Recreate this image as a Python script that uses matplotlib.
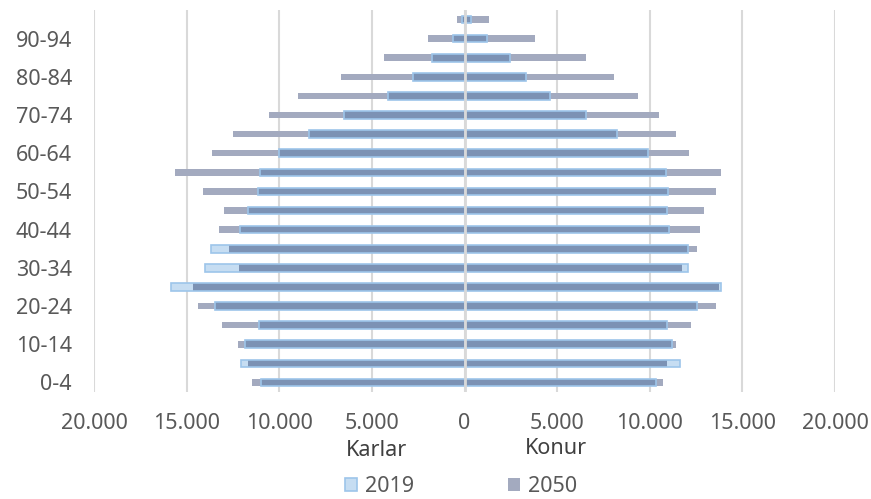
import numpy as np
import matplotlib
matplotlib.use('Agg')
import matplotlib.pyplot as plt
from matplotlib.patches import Patch

plt.rcParams['font.family'] = ['Noto Sans', 'DejaVu Sans']

# Age groups, youngest first
age_groups = ['0-4', '5-9', '10-14', '15-19', '20-24', '25-29', '30-34',
              '35-39', '40-44', '45-49', '50-54', '55-59', '60-64', '65-69',
              '70-74', '75-79', '80-84', '85-89', '90-94', '95+']

# Population counts per age group
karlar_2019 = [11000, 12080, 11860, 11100, 13490, 15860, 14030, 13700, 12130,
               11700, 11160, 11050, 10030, 8400, 6510, 4140, 2780, 1760, 620, 140]
karlar_2050 = [11490, 11700, 12240, 13110, 14400, 14680, 12190, 12730, 13270,
               13000, 14130, 15650, 13650, 12510, 10570, 9000, 6680, 4350, 1970, 400]
konur_2019 = [10350, 11650, 11220, 10950, 12570, 13820, 12080, 12080, 11050,
              10950, 11000, 10890, 9920, 8240, 6570, 4620, 3320, 2460, 1220, 350]
konur_2050 = [10730, 10950, 11430, 12240, 13590, 13760, 11760, 12570, 12730,
              12950, 13590, 13860, 12130, 11430, 10510, 9380, 8080, 6570, 3810, 1320]

tick_vals = [-20000, -15000, -10000, -5000, 0, 5000, 10000, 15000, 20000]
tick_labels = ['20.000', '15.000', '10.000', '5.000', '0',
               '5.000', '10.000', '15.000', '20.000']

C_2019 = '#C6DDF2'
C_2019_EDGE = '#9DC5EA'
C_2050 = '#A3AABF'
C_BOTH = '#7C92B4'
GRID = '#D9D9D9'
TXT = '#595959'

y = np.arange(len(age_groups))
k19 = -np.array(karlar_2019)
k50 = -np.array(karlar_2050)
n19 = np.array(konur_2019)
n50 = np.array(konur_2050)

fig = plt.figure(figsize=(8.71, 4.99), dpi=100)
ax = fig.add_axes([0.108, 0.2144, 0.8507, 0.7656])

h19 = 0.40
h50 = 0.34
for v19, v50 in ((k19, k50), (n19, n50)):
    # overlapping part of the two years is drawn darker
    both = np.sign(v19) * np.minimum(np.abs(v19), np.abs(v50))
    ax.barh(y, v50, height=h50, color=C_2050, zorder=2)
    ax.barh(y, v19, height=h19, color=C_2019, zorder=3)
    ax.barh(y, both, height=h19, color=C_BOTH, zorder=4)
    ax.barh(y, v19, height=h19, facecolor='none', edgecolor=C_2019_EDGE,
            linewidth=1.2, zorder=5)

ax.set_xlim(-20000, 20000)
ax.set_ylim(-0.5, len(age_groups) - 0.5)
ax.set_xticks(tick_vals)
ax.set_xticklabels(tick_labels)
ax.set_yticks(y[::2])
ax.set_yticklabels(age_groups[::2])
ax.tick_params(axis='both', length=0, labelsize=15.5, labelcolor=TXT)
ax.tick_params(axis='x', pad=15)
ax.tick_params(axis='y', pad=16)
for s in ax.spines.values():
    s.set_visible(False)

ax.grid(axis='x', color=GRID, linewidth=1.5, zorder=0)
ax.set_axisbelow(True)
ax.axvline(0, color=GRID, linewidth=2, zorder=6)

fig.text(376 / 871, 1 - 450 / 499, 'Karlar', ha='center', va='center',
         fontsize=15.5, color='#404040')
fig.text(556 / 871, 1 - 448 / 499, 'Konur', ha='center', va='center',
         fontsize=15.5, color='#404040')

handles = [Patch(facecolor=C_2019, edgecolor=C_2019_EDGE, linewidth=1.2),
           Patch(facecolor=C_2050, edgecolor='none')]
fig.legend(handles, ['2019', '2050'], loc='center',
           bbox_to_anchor=(461 / 871, 1 - 487 / 499), ncol=2, frameon=False,
           fontsize=15.5, labelcolor=TXT, handlelength=0.55, handleheight=0.55,
           handletextpad=0.35, columnspacing=4.4, borderpad=0)

fig.savefig('out.png', dpi=100)
